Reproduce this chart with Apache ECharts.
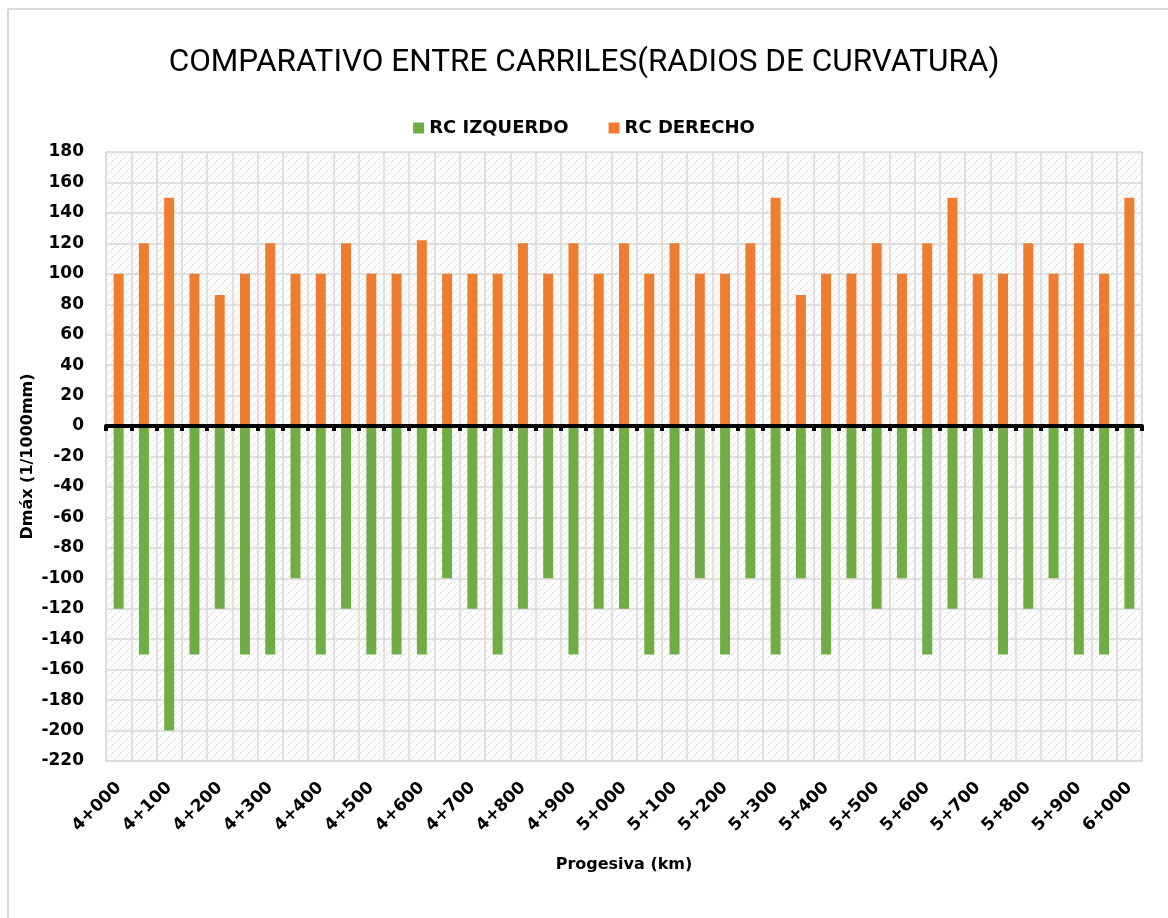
<!DOCTYPE html>
<html>
<head>
<meta charset="utf-8">
<title>Comparativo entre carriles</title>
<script src="https://cdn.jsdelivr.net/npm/echarts@6/dist/echarts.min.js"></script>
<style>
  html, body { margin: 0; padding: 0; background: #fff; }
  #chart { width: 1168px; height: 918px; }
</style>
</head>
<body>
<div id="chart"></div>
<script>
// progresivas cada 50 m
const categories = [
  '4+000', '4+050', '4+100', '4+150', '4+200', '4+250', '4+300', '4+350', '4+400', '4+450',
  '4+500', '4+550', '4+600', '4+650', '4+700', '4+750', '4+800', '4+850', '4+900', '4+950',
  '5+000', '5+050', '5+100', '5+150', '5+200', '5+250', '5+300', '5+350', '5+400', '5+450',
  '5+500', '5+550', '5+600', '5+650', '5+700', '5+750', '5+800', '5+850', '5+900', '5+950',
  '6+000'
]

const rcIzquierdo = [
  -120, -150, -200, -150, -120, -150, -150, -100, -150, -120,
  -150, -150, -150, -100, -120, -150, -120, -100, -150, -120,
  -120, -150, -150, -100, -150, -100, -150, -100, -150, -100,
  -120, -100, -150, -120, -100, -150, -120, -100, -150, -150,
  -120
]

const rcDerecho = [
  100, 120, 150, 100, 86, 100, 120, 100, 100, 120,
  100, 100, 122, 100, 100, 100, 120, 100, 120, 100,
  120, 100, 120, 100, 100, 120, 150, 86, 100, 100,
  120, 100, 120, 150, 100, 100, 120, 100, 120, 100,
  150
]

const yMin = -220
const yMax = 180
const yStep = 20

// trama del fondo (como el relleno de Excel)
function makePattern() {
  const c = document.createElement('canvas')
  c.width = 8
  c.height = 8
  const ctx = c.getContext('2d')
  ctx.fillStyle = '#ffffff'
  ctx.fillRect(0, 0, 8, 8)
  ctx.fillStyle = '#dcdcdc'
  for (let i = 0; i < 8; i++) {
    if (i % 4 < 2) ctx.fillRect(i, i, 1, 1)
    else ctx.fillRect((i + 4) % 8, i, 1, 1)
  }
  return { image: c, repeat: 'repeat' }
}

const boldFont = 'DejaVu Sans'
const chart = echarts.init(document.getElementById('chart'))

chart.setOption({
  animation: false,
  backgroundColor: '#fff',
  title: {
    text: 'COMPARATIVO ENTRE CARRILES(RADIOS DE CURVATURA)',
    left: 'center',
    top: 42,
    textStyle: {
      fontFamily: 'Roboto',
      fontWeight: 'normal',
      fontSize: 31.5,
      color: '#000'
    }
  },
  legend: {
    data: ['RC IZQUERDO', 'RC DERECHO'],
    top: 114,
    left: 'center',
    icon: 'rect',
    itemWidth: 11,
    itemHeight: 11,
    itemGap: 40,
    textStyle: {
      fontFamily: boldFont,
      fontWeight: 'bold',
      fontSize: 18,
      color: '#000'
    }
  },
  graphic: [
    { type: 'line', shape: { x1: 8, y1: 9, x2: 8, y2: 918 }, style: { stroke: '#d9d9d9', lineWidth: 2 } },
    { type: 'line', shape: { x1: 8, y1: 9, x2: 1168, y2: 9 }, style: { stroke: '#d9d9d9', lineWidth: 2 } }
  ],
  grid: {
    left: 106,
    right: 26,
    top: 152,
    bottom: 157,
    outerBoundsMode: 'none',
    show: true,
    borderColor: '#d9d9d9',
    borderWidth: 1,
    backgroundColor: makePattern()
  },
  xAxis: [
    {
      // eje en cero: línea gruesa y marcas
      type: 'category',
      data: categories,
      z: 10,
      axisLine: { onZero: true, lineStyle: { color: '#000', width: 4 } },
      axisTick: { show: true, interval: 0, length: 5, lineStyle: { color: '#000', width: 4 } },
      axisLabel: { show: false },
      splitLine: { show: false }
    },
    {
      type: 'category',
      data: categories,
      position: 'bottom',
      axisLine: { show: false, onZero: false },
      axisTick: { show: false },
      splitLine: { show: true, interval: 0, lineStyle: { color: '#d9d9d9', width: 1.5 } },
      axisLabel: {
        interval: 1,
        rotate: 45,
        margin: 24,
        fontFamily: boldFont,
        fontWeight: 'bold',
        fontSize: 17,
        color: '#000'
      },
      name: 'Progesiva (km)',
      nameLocation: 'middle',
      nameGap: 96,
      nameMoveOverlap: false,
      nameTextStyle: {
        fontFamily: boldFont,
        fontWeight: 'bold',
        fontSize: 16,
        color: '#000'
      }
    }
  ],
  yAxis: {
    type: 'value',
    min: yMin,
    max: yMax,
    interval: yStep,
    axisLine: { show: false },
    axisTick: { show: false },
    splitLine: { lineStyle: { color: '#d9d9d9', width: 1.5 } },
    axisLabel: {
      margin: 22,
      fontFamily: boldFont,
      fontWeight: 'bold',
      fontSize: 17,
      color: '#000'
    },
    name: 'Dmáx (1/1000mm)',
    nameLocation: 'middle',
    nameGap: 70,
    nameMoveOverlap: false,
    nameTextStyle: {
      fontFamily: boldFont,
      fontWeight: 'bold',
      fontSize: 16,
      color: '#000'
    }
  },
  series: [
    {
      name: 'RC IZQUERDO',
      type: 'bar',
      stack: 'rc',
      xAxisIndex: 0,
      barWidth: 10,
      itemStyle: { color: '#70AD47' },
      data: rcIzquierdo
    },
    {
      name: 'RC DERECHO',
      type: 'bar',
      stack: 'rc',
      xAxisIndex: 0,
      barWidth: 10,
      itemStyle: { color: '#ED7D31' },
      data: rcDerecho
    }
  ]
})
</script>
</body>
</html>
